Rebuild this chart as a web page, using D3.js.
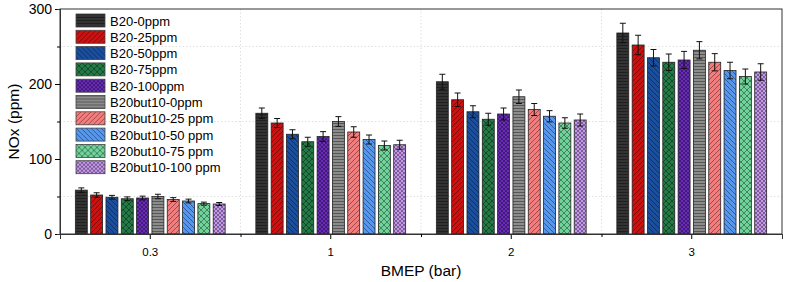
<!DOCTYPE html>
<html>
<head>
<meta charset="utf-8">
<script src="https://cdn.jsdelivr.net/npm/d3@7"></script>
<style>
  body { margin: 0; background: #fff; }
  text { font-family: "Liberation Sans", Arial, sans-serif; fill: #000; }
</style>
</head>
<body>
<div id="chart"></div>
<script>
// data
var categories = ["0.3", "1", "2", "3"];
var seriesNames = ["B20-0ppm", "B20-25ppm", "B20-50ppm", "B20-75ppm", "B20-100ppm",
    "B20but10-0ppm", "B20but10-25 ppm", "B20but10-50 ppm", "B20but10-75 ppm", "B20but10-100 ppm"];
var nox03 = [58.5, 52, 49, 47, 48, 50, 46, 44, 40.5, 40];
var nox1 = [161, 148, 133, 123, 130, 150, 136, 126, 118, 119];
var nox2 = [203, 179, 163, 153, 160, 183, 166, 157, 148, 152];
var nox3 = [268, 252, 235, 229, 232, 245, 229, 218, 210, 216];
var err03 = [3, 3, 2.5, 2.5, 2.5, 3, 2.5, 2.5, 2, 2];
var err1 = [7, 6, 6, 6, 6.5, 6.5, 7, 6, 6, 6];
var err2 = [10, 9, 8, 8, 8, 9, 8, 7.5, 7, 8];
var err3 = [13, 13, 11, 11, 11.5, 11.5, 11.5, 11, 10, 11];
var yTicks = [0, 100, 200, 300];

var fills = ["#333333", "#cc1111", "#1a4fa0", "#237a45", "#6a2bbd",
    "#8c8c8c", "#f47c7c", "#5596ee", "#6fd49a", "#c597ec"];
var hatch = ["h", "f", "b", "x", "xx", "h", "f", "b", "x", "xx"];

var allVals = [nox03, nox1, nox2, nox3];
var allErr = [err03, err1, err2, err3];
var data = [];
categories.forEach(function (c, ci) {
    seriesNames.forEach(function (s, si) {
        data.push({ cat: c, s: si, value: allVals[ci][si], err: allErr[ci][si] });
    });
});

var W = 786, H = 282;
var margin = { top: 9, right: 4, bottom: 48, left: 60 },
    width = W - margin.left - margin.right,
    height = H - margin.top - margin.bottom;

var svg = d3.select("#chart").append("svg")
    .attr("width", W)
    .attr("height", H);

// hatch patterns
var defs = svg.append("defs");
fills.forEach(function (f, i) {
    var t = hatch[i];
    var size = t == "h" ? 3 : (t == "xx" ? 4 : (t == "x" ? 6 : 5));
    var p = defs.append("pattern")
        .attr("id", "pat" + i)
        .attr("patternUnits", "userSpaceOnUse")
        .attr("width", size)
        .attr("height", size);
    p.append("rect").attr("width", size).attr("height", size).attr("fill", f);
    var ln = function (x1, y1, x2, y2) {
        p.append("line")
            .attr("x1", x1).attr("y1", y1).attr("x2", x2).attr("y2", y2)
            .attr("stroke", "#000").attr("stroke-opacity", 0.55).attr("stroke-width", 0.7);
    };
    if (t == "h") { ln(0, 0.5, size, 0.5); }
    if (t == "f" || t == "x" || t == "xx") { ln(0, size, size, 0); ln(-1, 1, 1, -1); ln(size - 1, size + 1, size + 1, size - 1); }
    if (t == "b" || t == "x" || t == "xx") { ln(0, 0, size, size); ln(-1, size - 1, 1, size + 1); ln(size - 1, -1, size + 1, 1); }
});

var g = svg.append("g")
    .attr("transform", "translate(" + margin.left + "," + margin.top + ")");

var x0 = d3.scaleBand().domain(categories).range([0, width]);
var x1 = d3.scaleBand().domain(d3.range(seriesNames.length))
    .range([0, x0.bandwidth() * 0.83]).paddingInner(0.22);
var groupOff = (x0.bandwidth() - x1.range()[1]) / 2;
var y = d3.scaleLinear().domain([0, 300]).range([height, 0]);

// dotted grid
g.selectAll(".hgrid").data([50, 150, 250]).enter().append("line")
    .attr("x1", 0).attr("x2", width)
    .attr("y1", function (d) { return y(d); }).attr("y2", function (d) { return y(d); })
    .attr("stroke", "#d8d8d8").attr("stroke-dasharray", "1.5,2").attr("stroke-width", 0.8);
g.selectAll(".vgrid").data(categories.slice(1)).enter().append("line")
    .attr("x1", function (d) { return x0(d); }).attr("x2", function (d) { return x0(d); })
    .attr("y1", 0).attr("y2", height)
    .attr("stroke", "#d8d8d8").attr("stroke-dasharray", "1.5,2").attr("stroke-width", 0.8);

// bars
g.selectAll(".bar").data(data).enter().append("rect")
    .attr("class", "bar")
    .attr("x", function (d) { return x0(d.cat) + groupOff + x1(d.s); })
    .attr("y", function (d) { return y(d.value); })
    .attr("width", x1.bandwidth())
    .attr("height", function (d) { return height - y(d.value); })
    .attr("fill", function (d) { return "url(#pat" + d.s + ")"; })
    .attr("stroke", "#222").attr("stroke-width", 0.8);

// error bars
var eb = g.selectAll(".err").data(data).enter().append("g").attr("class", "err")
    .attr("transform", function (d) { return "translate(" + (x0(d.cat) + groupOff + x1(d.s) + x1.bandwidth() / 2) + ",0)"; });
eb.append("line")
    .attr("y1", function (d) { return y(d.value - d.err); })
    .attr("y2", function (d) { return y(d.value + d.err); })
    .attr("stroke", "#111").attr("stroke-width", 1);
eb.append("line")
    .attr("x1", -3).attr("x2", 3)
    .attr("y1", function (d) { return y(d.value + d.err); })
    .attr("y2", function (d) { return y(d.value + d.err); })
    .attr("stroke", "#111").attr("stroke-width", 1);
eb.append("line")
    .attr("x1", -3).attr("x2", 3)
    .attr("y1", function (d) { return y(d.value - d.err); })
    .attr("y2", function (d) { return y(d.value - d.err); })
    .attr("stroke", "#111").attr("stroke-width", 1);

// frame
g.append("rect").attr("width", width).attr("height", height)
    .attr("fill", "none").attr("stroke", "#333").attr("stroke-width", 1);

// y axis
var yAxis = g.append("g").call(d3.axisLeft(y).tickValues(yTicks).tickSize(5).tickPadding(3));
yAxis.selectAll("text").style("font-size", "14px");
g.append("g").call(d3.axisLeft(y).tickValues([50, 150, 250]).tickSize(3).tickFormat(""));
g.selectAll(".domain").attr("stroke", "#333");

// x axis
var xAxis = g.append("g").attr("transform", "translate(0," + height + ")")
    .call(d3.axisBottom(x0).tickSize(5).tickPadding(9));
xAxis.selectAll("text").style("font-size", "11.5px");
g.append("g").attr("transform", "translate(0," + height + ")")
    .call(d3.axisBottom(d3.scaleLinear().domain([0, width]).range([0, width]))
        .tickValues(categories.slice(1).map(function (c) { return x0(c); })).tickSize(3).tickFormat(""));
g.selectAll(".domain").attr("stroke", "#333");

// axis titles
svg.append("text")
    .attr("x", margin.left + width / 2).attr("y", 276)
    .attr("text-anchor", "middle").style("font-size", "15.5px")
    .text("BMEP (bar)");
svg.append("text")
    .attr("transform", "translate(19," + (margin.top + height / 2) + ") rotate(-90)")
    .attr("text-anchor", "middle").style("font-size", "15.5px")
    .text("NOx (ppm)");

// legend
var legend = svg.append("g").attr("transform", "translate(76,14)");
var li = legend.selectAll(".leg").data(seriesNames).enter().append("g")
    .attr("transform", function (d, i) { return "translate(0," + i * 16.3 + ")"; });
li.append("rect").attr("width", 29).attr("height", 13)
    .attr("fill", function (d, i) { return "url(#pat" + i + ")"; })
    .attr("stroke", "#444").attr("stroke-width", 0.8);
li.append("text").attr("x", 34).attr("y", 11.5)
    .style("font-size", "13px")
    .text(function (d) { return d; });
</script>
</body>
</html>
